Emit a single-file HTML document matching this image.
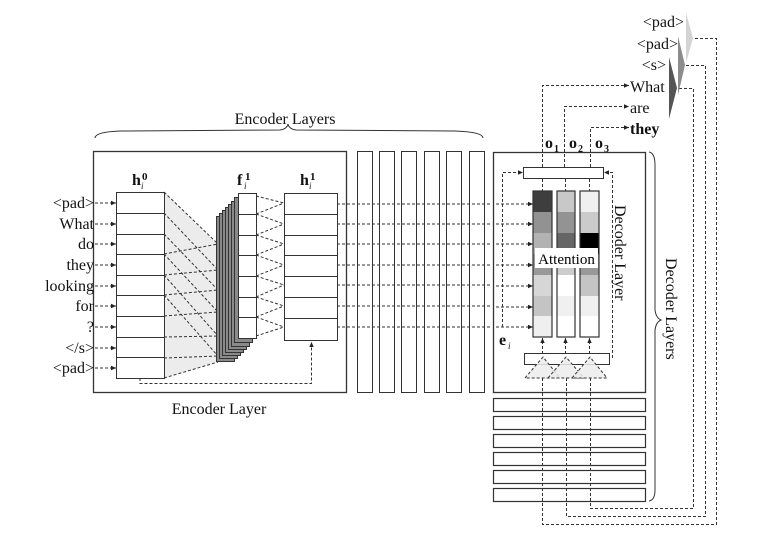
<!DOCTYPE html>
<html><head><meta charset="utf-8"><style>
html,body{margin:0;padding:0;background:#fff}
svg{display:block;font-family:"Liberation Serif",serif}
</style></head><body>
<svg width="757" height="552" viewBox="0 0 757 552" xmlns="http://www.w3.org/2000/svg">
<defs>
<marker id="a" markerWidth="6" markerHeight="6" refX="5" refY="3" orient="auto" markerUnits="userSpaceOnUse"><path d="M0,0.8 L5,3 L0,5.2z" fill="#222"/></marker>
</defs>
<g fill="none" stroke="#333" stroke-width="1">
<path d="M95,138 Q95,132 120,131 L280,130 Q287,129 288,124 Q289,129 296,130 L455,131 Q483,132 483,138"/>
<rect x="93.5" y="151.5" width="253" height="241" stroke-width="1.3"/>
<rect x="357.5" y="151.5" width="15" height="241"/>
<rect x="379.5" y="151.5" width="15" height="241"/>
<rect x="401.5" y="151.5" width="15" height="241"/>
<rect x="424.5" y="151.5" width="15" height="241"/>
<rect x="446.5" y="151.5" width="15" height="241"/>
<rect x="469.5" y="151.5" width="15" height="241"/>
<rect x="493.5" y="152.5" width="152" height="240" stroke-width="1.3"/>
<path d="M649,152 Q655,153 655,165 L655,310 Q656,318 661,320 Q656,322 655,330 L655,490 Q655,500 649,501"/>
</g>
<polygon points="164,192 217,244 217,362 164,378" fill="#ececec"/>
<g fill="#fff" stroke="#333">
<rect x="116.5" y="192.5" width="48" height="186"/>
</g>
<g stroke="#333">
<line x1="116" y1="213.5" x2="164" y2="213.5"/><line x1="116" y1="234.5" x2="164" y2="234.5"/>
<line x1="116" y1="254.5" x2="164" y2="254.5"/><line x1="116" y1="275.5" x2="164" y2="275.5"/>
<line x1="116" y1="295.5" x2="164" y2="295.5"/><line x1="116" y1="316.5" x2="164" y2="316.5"/>
<line x1="116" y1="337.5" x2="164" y2="337.5"/><line x1="116" y1="357.5" x2="164" y2="357.5"/>
</g>
<g stroke="#333" stroke-dasharray="3,2" fill="none">
<path d="M164,192 L218,244 M164,254 L218,244 M164,275 L218,270 M164,213 L218,270"/>
<path d="M164,295 L218,290 M164,234 L218,290 M164,316 L218,312 M164,254 L218,312"/>
<path d="M164,337 L218,336 M164,275 L218,336 M164,358 L218,356 M164,295 L218,356 M164,378 L218,362"/>
</g>
<g stroke="#333" fill="#8a8a8a">
<rect x="216.5" y="216.5" width="18" height="145"/>
<rect x="219.5" y="213.5" width="18" height="145"/>
<rect x="222.5" y="210.5" width="18" height="145"/>
<rect x="225.5" y="207.5" width="18" height="145"/>
<rect x="228.5" y="204.5" width="18" height="145"/>
<rect x="231.5" y="201.5" width="18" height="145"/>
<rect x="234.5" y="197.5" width="18" height="145"/>
<rect x="238.5" y="193.5" width="18" height="145" fill="#fff"/>
</g>
<g stroke="#333">
<line x1="238" y1="214.5" x2="256" y2="214.5"/><line x1="238" y1="235.5" x2="256" y2="235.5"/>
<line x1="238" y1="255.5" x2="256" y2="255.5"/><line x1="238" y1="276.5" x2="256" y2="276.5"/>
<line x1="238" y1="297.5" x2="256" y2="297.5"/><line x1="238" y1="317.5" x2="256" y2="317.5"/>
</g>
<g stroke="#333" stroke-dasharray="3,2">
<path d="M256,196 L284,203 M256,214 L284,203 M256,214 L284,224 M256,235 L284,224 M256,235 L284,244 M256,255 L284,244 M256,255 L284,265 M256,276 L284,265 M256,276 L284,285 M256,297 L284,285 M256,297 L284,306 M256,317 L284,306 M256,317 L284,327 M256,336 L284,327"/>
</g>
<rect x="284.5" y="193.5" width="53" height="147" fill="#fff" stroke="#333"/>
<g stroke="#333">
<line x1="284" y1="214.5" x2="337" y2="214.5"/><line x1="284" y1="235.5" x2="337" y2="235.5"/>
<line x1="284" y1="255.5" x2="337" y2="255.5"/><line x1="284" y1="276.5" x2="337" y2="276.5"/>
<line x1="284" y1="297.5" x2="337" y2="297.5"/><line x1="284" y1="318.5" x2="337" y2="318.5"/>
</g>
<path d="M140,378 L140,383.5 L311.5,383.5 L311.5,342" fill="none" stroke="#333" stroke-dasharray="3,2" marker-end="url(#a)"/>
<g stroke="#333" stroke-dasharray="3,2" marker-end="url(#a)">
<line x1="95" y1="203" x2="116" y2="203"/><line x1="95" y1="224" x2="116" y2="224"/>
<line x1="95" y1="244" x2="116" y2="244"/><line x1="95" y1="265" x2="116" y2="265"/>
<line x1="95" y1="286" x2="116" y2="286"/><line x1="95" y1="306" x2="116" y2="306"/>
<line x1="95" y1="327" x2="116" y2="327"/><line x1="95" y1="348" x2="116" y2="348"/>
<line x1="95" y1="368" x2="116" y2="368"/>
</g>
<g stroke="#333" stroke-dasharray="3,2">
<line x1="337" y1="204" x2="490" y2="204"/><line x1="337" y1="224" x2="490" y2="224"/>
<line x1="337" y1="244" x2="490" y2="244"/><line x1="337" y1="265" x2="490" y2="265"/>
<line x1="337" y1="285" x2="490" y2="285"/><line x1="337" y1="306" x2="490" y2="306"/>
<line x1="337" y1="327" x2="490" y2="327"/>
</g>
<g stroke="#333" stroke-dasharray="3,2" marker-end="url(#a)">
<line x1="496" y1="204" x2="533" y2="204"/><line x1="496" y1="224" x2="533" y2="224"/>
<line x1="496" y1="244" x2="533" y2="244"/><line x1="496" y1="265" x2="533" y2="265"/>
<line x1="496" y1="286" x2="533" y2="286"/><line x1="496" y1="307" x2="533" y2="307"/>
<line x1="496" y1="327" x2="533" y2="327"/>
<path d="M502.5,327 L502.5,172.5 L523,172.5" fill="none"/>
<path d="M612.5,358 L612.5,172.5 L604,172.5" fill="none"/>
</g>
<rect x="523.5" y="167.5" width="80" height="11" fill="#fff" stroke="#333"/>
<g stroke="none">
<rect x="533" y="191" width="19" height="21" fill="#3e3e3e"/><rect x="533" y="212" width="19" height="21" fill="#929292"/>
<rect x="533" y="233" width="19" height="21" fill="#b2b2b2"/><rect x="533" y="254" width="19" height="21" fill="#999"/>
<rect x="533" y="275" width="19" height="21" fill="#d6d6d6"/><rect x="533" y="296" width="19" height="20" fill="#c4c4c4"/>
<rect x="533" y="316" width="19" height="21" fill="#efefef"/>
<rect x="557" y="191" width="18" height="21" fill="#c8c8c8"/><rect x="557" y="212" width="18" height="21" fill="#939393"/>
<rect x="557" y="233" width="18" height="21" fill="#666"/><rect x="557" y="254" width="18" height="21" fill="#ccc"/>
<rect x="557" y="275" width="18" height="21" fill="#fff"/><rect x="557" y="296" width="18" height="20" fill="#f0f0f0"/>
<rect x="557" y="316" width="18" height="21" fill="#fff"/>
<rect x="580" y="191" width="19" height="21" fill="#f0f0f0"/><rect x="580" y="212" width="19" height="21" fill="#cbcbcb"/>
<rect x="580" y="233" width="19" height="21" fill="#000"/><rect x="580" y="254" width="19" height="21" fill="#999"/>
<rect x="580" y="275" width="19" height="21" fill="#c4c4c4"/><rect x="580" y="296" width="19" height="20" fill="#f0f0f0"/>
<rect x="580" y="316" width="19" height="21" fill="#fff"/>
</g>
<g fill="none" stroke="#333" stroke-width="1.2">
<rect x="533" y="191" width="19" height="146"/><rect x="557" y="191" width="18" height="146"/><rect x="580" y="191" width="19" height="146"/>
</g>
<rect x="535" y="248" width="63" height="20" fill="#fff"/>
<text x="566.5" y="264" font-size="15" text-anchor="middle">Attention</text>
<g stroke="#333" stroke-dasharray="3,2">
<line x1="542.5" y1="179" x2="542.5" y2="191"/><line x1="565.5" y1="179" x2="565.5" y2="191"/><line x1="589.5" y1="179" x2="589.5" y2="191"/>
</g>
<g stroke="#333" stroke-dasharray="3,2" marker-end="url(#a)">
<line x1="542.5" y1="354" x2="542.5" y2="338"/><line x1="565.5" y1="354" x2="565.5" y2="338"/><line x1="589.5" y1="354" x2="589.5" y2="338"/>
</g>
<rect x="524.5" y="353.5" width="85" height="11" fill="#fff" stroke="#333"/>
<g fill="#ececec" fill-opacity="0.85" stroke="#333" stroke-dasharray="3,2">
<polygon points="525,378 543,357 560,378"/>
<polygon points="548,378 566,357 584,378"/>
<polygon points="572,378 590,357 607,378"/>
</g>
<g fill="#fff" stroke="#333" stroke-width="1.2">
<rect x="493.5" y="398.5" width="152" height="13"/>
<rect x="493.5" y="416.5" width="152" height="13"/>
<rect x="493.5" y="434.5" width="152" height="13"/>
<rect x="493.5" y="452.5" width="152" height="13"/>
<rect x="493.5" y="470.5" width="152" height="13"/>
<rect x="493.5" y="488.5" width="152" height="13"/>
</g>
<g stroke="#333" stroke-dasharray="3,2" fill="none">
<path d="M542.5,378 L542.5,524.5 L716.5,524.5 L716.5,38.5 L694,38.5"/>
<path d="M566.5,378 L566.5,516.5 L705.5,516.5 L705.5,65.5 L686,65.5"/>
<path d="M590.5,378 L590.5,508.5 L693.5,508.5 L693.5,88.5 L677,88.5"/>
</g>
<g stroke="#333" stroke-dasharray="3,2" fill="none" marker-end="url(#a)">
<path d="M542.5,167 L542.5,85.5 L629,85.5"/>
<path d="M564.5,167 L564.5,106.5 L629,106.5"/>
<path d="M590.5,167 L590.5,127.5 L629,127.5"/>
</g>
<polygon points="686,13 693,38 686,63" fill="#d4d4d4"/>
<polygon points="678,36 685,65 678,95" fill="#8c8c8c"/>
<polygon points="669,57 677,88 669,119" fill="#555"/>
<g font-size="16" fill="#111">
<text x="285" y="124" text-anchor="middle">Encoder Layers</text>
<text x="219" y="414" text-anchor="middle">Encoder Layer</text>
<g text-anchor="end">
<text x="94" y="208">&lt;pad&gt;</text><text x="94" y="229">What</text><text x="94" y="249">do</text>
<text x="94" y="270">they</text><text x="94" y="291">looking</text><text x="94" y="311">for</text>
<text x="94" y="332">?</text><text x="94" y="353">&lt;/s&gt;</text><text x="94" y="373">&lt;pad&gt;</text>
<text x="684" y="27">&lt;pad&gt;</text><text x="678" y="49">&lt;pad&gt;</text><text x="666" y="70">&lt;s&gt;</text>
</g>
<text x="630" y="92">What</text><text x="630" y="113">are</text>
<text x="630" y="134" font-weight="bold">they</text>
<text x="132" y="185" font-weight="bold">h</text><text x="142" y="180" font-weight="bold" font-size="11">0</text><text x="141" y="189" font-style="italic" font-size="9">i</text>
<text x="237" y="185" font-weight="bold">f</text><text x="245" y="180" font-weight="bold" font-size="11">1</text><text x="244" y="189" font-style="italic" font-size="9">i</text>
<text x="300" y="185" font-weight="bold">h</text><text x="310" y="180" font-weight="bold" font-size="11">1</text><text x="309" y="189" font-style="italic" font-size="9">i</text>
<text x="545" y="148" font-weight="bold">o</text><text x="554" y="152" font-weight="bold" font-size="10">1</text>
<text x="569" y="148" font-weight="bold">o</text><text x="578" y="152" font-weight="bold" font-size="10">2</text>
<text x="595" y="148" font-weight="bold">o</text><text x="604" y="152" font-weight="bold" font-size="10">3</text>
<text x="499" y="345" font-weight="bold">e</text><text x="508" y="349" font-style="italic" font-size="9">i</text>
<text transform="translate(615,205) rotate(90)">Decoder Layer</text>
<text transform="translate(666,258) rotate(90)">Decoder Layers</text>
</g>
</svg>
</body></html>
